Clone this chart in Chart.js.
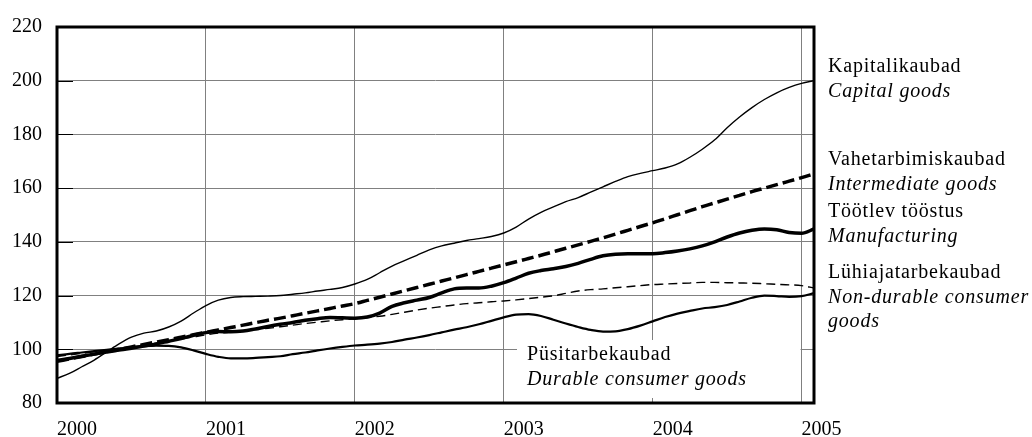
<!DOCTYPE html>
<html>
<head>
<meta charset="utf-8">
<script src="https://cdn.jsdelivr.net/npm/chart.js@4/dist/chart.umd.min.js"></script>
<style>
  body { margin: 0; background: #fff; }
</style>
</head>
<body>
<canvas id="chart" width="1032" height="437"></canvas>
<script>
// monthly index, Jan 2000 .. Feb 2005
const years = ['2000', '2001', '2002', '2003', '2004', '2005'];
const months = [];
years.forEach(y => {
    for (let m = 1; m <= 12; m++) months.push(y + '-' + String(m).padStart(2, '0'));
});
months.length = 62;

const capitalGoods = [89.2, 91, 93.5, 96, 99, 102, 104.5, 106, 106.8, 108.3,
    110.5, 113.5, 116.3, 118.3, 119.3, 119.6, 119.7, 119.8, 120, 120.5,
    121, 121.7, 122.3, 123, 124.3, 126, 128.5, 131, 133, 135,
    137, 138.5, 139.5, 140.5, 141.2, 142, 143.3, 145.5, 148.5, 151,
    153, 155, 156.5, 158.5, 160.5, 162.5, 164.3, 165.5, 166.5, 167.5,
    169, 171.5, 174.5, 178, 182.5, 186.5, 190, 193, 195.5, 197.5,
    199, 200];

const intermediateGoods = [95.5, 96.4, 97.3, 98.2, 99.1, 100, 100.9, 101.8, 102.7, 103.6,
    104.5, 105.4, 106.3, 107.2, 108.1, 109, 109.9, 110.8, 111.6, 112.5,
    113.4, 114.3, 115.2, 116.1, 117, 118.2, 119.4, 120.6, 121.8, 123,
    124.2, 125.4, 126.6, 127.8, 129, 130.2, 131.4, 132.6, 133.8, 135,
    136.3, 137.6, 138.9, 140.2, 141.5, 142.9, 144.3, 145.7, 147.1, 148.6,
    150.1, 151.6, 153.1, 154.5, 155.9, 157.3, 158.7, 160, 161.3, 162.6,
    163.9, 165.3];

const manufacturing = [95.8, 96.6, 97.4, 98.2, 99, 99.7, 100.4, 101.2, 102, 103,
    104, 105.2, 106.2, 106.6, 106.5, 106.8, 107.6, 108.5, 109.3, 110,
    110.8, 111.4, 111.8, 111.7, 111.6, 112, 113.5, 116, 117.3, 118.3,
    119.3, 121, 122.5, 122.8, 122.8, 123.5, 124.8, 126.5, 128.3, 129.3,
    130, 130.8, 132, 133.5, 134.8, 135.4, 135.6, 135.6, 135.6, 136,
    136.6, 137.4, 138.5, 140, 141.8, 143.3, 144.3, 144.8, 144.5, 143.5,
    143.2, 144.8];

const nonDurableGoods = [97.3, 97.9, 98.5, 99.1, 99.7, 100.3, 100.9, 101.6, 102.3, 103,
    103.8, 104.6, 105.4, 106, 106.4, 106.8, 107.3, 107.8, 108.4, 109,
    109.6, 110.1, 110.6, 111, 111.4, 111.8, 112.3, 113, 113.8, 114.6,
    115.3, 115.9, 116.5, 117, 117.3, 117.7, 118, 118.4, 118.9, 119.4,
    119.9, 120.8, 121.7, 122.2, 122.5, 122.9, 123.3, 123.7, 124.1, 124.3,
    124.5, 124.7, 124.9, 124.9, 124.8, 124.7, 124.6, 124.4, 124.2, 124,
    123.7, 122.8];

const durableGoods = [97.7, 98.3, 98.8, 99.3, 99.8, 100.3, 100.8, 101.2, 101.4, 101.3,
    100.7, 99.6, 98.3, 97.2, 96.6, 96.6, 96.8, 97.1, 97.4, 98.2,
    98.8, 99.6, 100.3, 100.9, 101.4, 101.7, 102.1, 102.7, 103.6, 104.4,
    105.3, 106.3, 107.3, 108.2, 109.3, 110.6, 111.9, 112.9, 113.1, 112.4,
    111, 109.6, 108.3, 107.2, 106.6, 106.7, 107.5, 108.8, 110.4, 112,
    113.3, 114.3, 115.2, 115.7, 116.5, 117.8, 119.2, 120, 119.8, 119.5,
    119.8, 120.9];

const seriesLabels = [
    ['Kapitalikaubad', 'Capital goods'],
    ['Vahetarbimiskaubad', 'Intermediate goods'],
    ['Töötlev tööstus', 'Manufacturing'],
    ['Lühiajatarbekaubad', 'Non-durable consumer', 'goods'],
    ['Püsitarbekaubad', 'Durable consumer goods']
];

const serif = "'Liberation Serif', 'Times New Roman', serif";
const gridGray = '#808080';

// text blocks next to the lines: [x, first row y] in pixels
const textSpots = [[828, 67], [828, 160], [828, 212], [828, 273], [527, 355]];

const framePlugin = {
    id: 'frame',
    beforeDatasetsDraw(chart) {
        const {ctx, chartArea: a, scales} = chart;
        ctx.save();
        // white patch behind the durable goods label
        ctx.fillStyle = '#fff';
        ctx.fillRect(517, 340, scales.x.getPixelForValue(60) - 1 - 517, 58);
        // short dark ticks on the inside of the y axis
        ctx.strokeStyle = '#000';
        ctx.lineWidth = 1;
        scales.y.ticks.forEach(t => {
            const y = Math.round(scales.y.getPixelForValue(t.value)) + 0.5;
            ctx.beginPath();
            ctx.moveTo(a.left, y);
            ctx.lineTo(a.left + 16, y);
            ctx.stroke();
        });
        ctx.restore();
    },
    afterDatasetsDraw(chart) {
        const {ctx, chartArea: a} = chart;
        ctx.save();
        ctx.strokeStyle = '#000';
        ctx.lineWidth = 3;
        ctx.strokeRect(a.left, a.top, a.right - a.left, a.bottom - a.top);

        ctx.fillStyle = '#000';
        ctx.textBaseline = 'middle';
        ctx.textAlign = 'left';
        ctx.letterSpacing = '0.8px';
        seriesLabels.forEach((rows, i) => {
            const [x, y0] = textSpots[i];
            rows.forEach((txt, r) => {
                ctx.font = (r === 0 ? '' : 'italic ') + '20px ' + serif;
                ctx.fillText(txt, x, y0 + r * 24.5);
            });
        });
        ctx.restore();
    }
};

new Chart(document.getElementById('chart'), {
    type: 'line',
    data: {
        labels: months,
        datasets: [
            {
                label: seriesLabels[0][1],
                data: capitalGoods,
                borderColor: '#000',
                borderWidth: 1.4
            },
            {
                label: seriesLabels[1][1],
                data: intermediateGoods,
                borderColor: '#000',
                borderWidth: 3.5,
                borderDash: [12, 5]
            },
            {
                label: seriesLabels[2][1],
                data: manufacturing,
                borderColor: '#000',
                borderWidth: 3.5
            },
            {
                label: seriesLabels[3][1],
                data: nonDurableGoods,
                borderColor: '#000',
                borderWidth: 1.4,
                borderDash: [9, 5]
            },
            {
                label: seriesLabels[4][1],
                data: durableGoods,
                borderColor: '#000',
                borderWidth: 2.2
            }
        ]
    },
    options: {
        responsive: false,
        animation: false,
        devicePixelRatio: 1,
        layout: {
            padding: { top: 23, right: 218, left: 0, bottom: 0 }
        },
        elements: {
            point: { radius: 0 },
            line: { tension: 0.4, cubicInterpolationMode: 'monotone', fill: false }
        },
        scales: {
            x: {
                type: 'category',
                offset: false,
                afterFit: function(scale) { scale.height = 34; },
                border: { display: false },
                grid: {
                    drawTicks: false,
                    color: function(c) { return c.index % 12 === 0 ? gridGray : 'rgba(0,0,0,0)'; },
                    lineWidth: 1
                },
                ticks: {
                    autoSkip: false,
                    maxRotation: 0,
                    align: 'start',
                    padding: 15,
                    color: '#000',
                    font: { family: serif, size: 20 },
                    callback: function(value, index) {
                        return index % 12 === 0 ? years[index / 12] : '';
                    }
                }
            },
            y: {
                min: 80,
                max: 220,
                afterFit: function(scale) { scale.width = 57; },
                border: { display: false },
                grid: {
                    drawTicks: false,
                    color: gridGray,
                    lineWidth: 1
                },
                ticks: {
                    stepSize: 20,
                    padding: 15,
                    color: '#000',
                    font: { family: serif, size: 20 }
                }
            }
        },
        plugins: {
            legend: { display: false },
            tooltip: { enabled: false },
            title: { display: false }
        }
    },
    plugins: [framePlugin]
});
</script>
</body>
</html>
